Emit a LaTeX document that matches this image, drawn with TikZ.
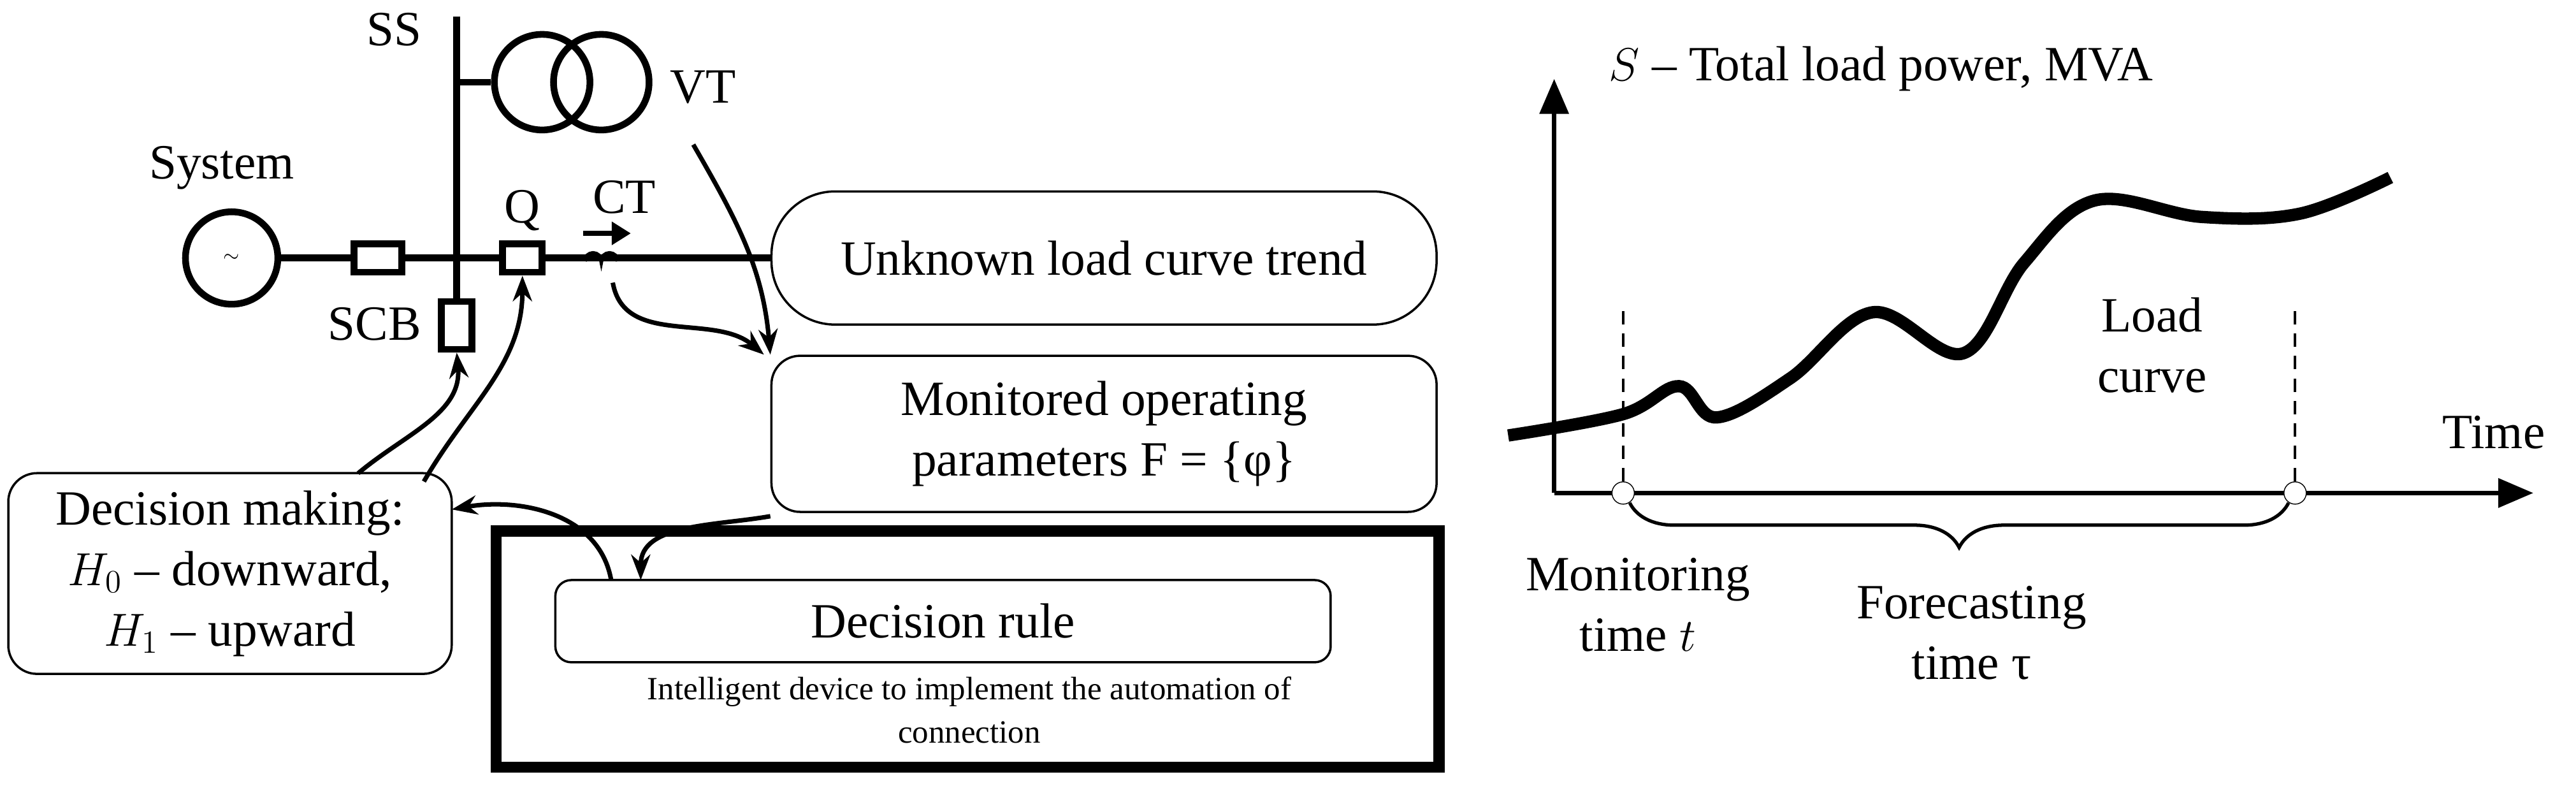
\documentclass[tikz,border=0pt]{standalone}
\usepackage{fontspec}
\setmainfont{Liberation Serif}
\usetikzlibrary{positioning, arrows, arrows.meta, decorations.pathreplacing}
\tikzset{
  box/.style={rectangle, draw, line width=1pt, text centered, align=center, font=\fontsize{22}{27}\selectfont},
  lbl/.style={font=\fontsize{22}{27}\selectfont},
  wire/.style={line width=3pt},
  brk/.style={rectangle, draw, line width=3pt, fill=white, minimum width=0.75cm, minimum height=0.45cm, inner sep=0pt},
  link/.style={-{Stealth[length=0.4cm,width=0.3cm]}, line width=2pt}
}
\begin{document}
\begin{tikzpicture}[x=0.02578cm, y=-0.02578cm]
\useasboundingbox (0,0) rectangle (1568,478);

%Circuit
\node (gen) at (141,157) [circle, draw, line width=3pt, minimum size=1.45cm, inner sep=0pt] {\small$\sim$};
\coordinate (busTop) at (278,10);
\node (scb) at (278,198) [brk, minimum width=0.48cm, minimum height=0.75cm] {};
\node (vtA) at (330,50) [circle, draw, line width=3pt, minimum size=1.5cm] {};
\node (vtB) at (366,50) [circle, draw, line width=3pt, minimum size=1.5cm] {};
\draw [wire] (busTop) -- (scb.north);
\draw [wire] (278,50) -- (vtA.west);
\draw [wire] (gen.east) -- (470,157);
\node (cb) at (230,157) [brk] {};
\node (q) at (318,157) [brk, minimum width=0.62cm] {};
\draw [line width=1.8pt] (356,159) arc (180:360:5) arc (180:360:5);
\draw [-{Triangle[length=0.3cm,width=0.35cm]}, line width=2.5pt] (355,142) -- (384,142);

%Labels
\node (ssLbl) at (240,18) [lbl] {SS};
\node (vtLbl) at (428,53) [lbl] {VT};
\node (sysLbl) at (135,102) [lbl] {System};
\node (qLbl) at (318,128) [lbl] {Q};
\node (ctLbl) at (380,120) [lbl] {CT};
\node (scbLbl) at (228,197) [lbl] {SCB};

%Boxes
\node (trend) at (672,157) [box, rounded corners=1cm, minimum width=10.44cm, minimum height=2.09cm] {Unknown load curve trend};
\node (monitor) at (672,264) [box, rounded corners=0.45cm, minimum width=10.44cm, minimum height=2.45cm] {Monitored operating\\parameters F = \{φ\}};
\node (decision) at (140,349) [box, rounded corners=0.45cm, minimum width=6.96cm, minimum height=3.15cm] {Decision making:\\$H_0$ -- downward,\\$H_1$ -- upward};
\node (device) at (589,395) [rectangle, draw, line width=5pt, minimum width=14.8cm, minimum height=3.71cm] {};
\node (rule) at (574,378) [box, rounded corners=0.25cm, minimum width=12.17cm, minimum height=1.29cm] {Decision rule};
\node (devLbl) at (590,432) [align=center, font=\fontsize{14.5}{19.5}\selectfont] {Intelligent device to implement the automation of\\connection};

%Links
\draw [link] (422,88) to [out=-60,in=95] (monitor.north west);
\draw [link] (373,172) to [out=-80,in=140] ([xshift=-0.1cm]monitor.north west);
\draw [link] ([yshift=-0.05cm]monitor.south west) to [out=190,in=90] (390,353);
\draw [link] (372,353) to [out=100,in=10] (275,310);
\draw [link] (218,288) to [out=40,in=-85] (scb.south);
\draw [link] (258,293) to [out=60,in=-90] (q.south);

%Plot
\coordinate (origin) at (946,300);
\coordinate (yEnd) at (946,48);
\coordinate (xEnd) at (1542,300);
\draw [-{Triangle[length=0.55cm,width=0.45cm]}, line width=2pt] (origin) -- (yEnd);
\draw [-{Triangle[length=0.55cm,width=0.45cm]}, line width=2pt] (origin) -- (xEnd);
\node (sLbl) at (1145,42) [lbl] {$S$ -- Total load power, MVA};
\node (timeLbl) at (1518,263) [lbl] {Time};
\node (tMon) at (988,300) [circle, draw, fill=white, inner sep=0pt, minimum size=0.35cm] {};
\node (tFor) at (1397,300) [circle, draw, fill=white, inner sep=0pt, minimum size=0.35cm] {};
\draw [dash pattern=on 6pt off 4pt, line width=1.2pt] (tMon.north) -- (988,185);
\draw [dash pattern=on 6pt off 4pt, line width=1.2pt] (tFor.north) -- (1397,185);
\draw [line width=5.5pt] plot [smooth, tension=0.6] coordinates {(918,265) (988,252) (1022,235) (1045,254) (1090,230) (1140,190) (1195,215) (1232,160) (1275,122) (1340,132) (1400,130) (1455,108)};
\draw [decorate, decoration={brace, mirror, amplitude=0.7cm}, line width=1.5pt] (992,306) -- (1393,306);
\node (loadLbl) at (1310,210) [lbl, align=center] {Load\\curve};
\node (monLbl) at (997,368) [lbl, align=center] {Monitoring\\time $t$};
\node (forLbl) at (1200,385) [lbl, align=center] {Forecasting\\time τ};
\end{tikzpicture}
\end{document}
